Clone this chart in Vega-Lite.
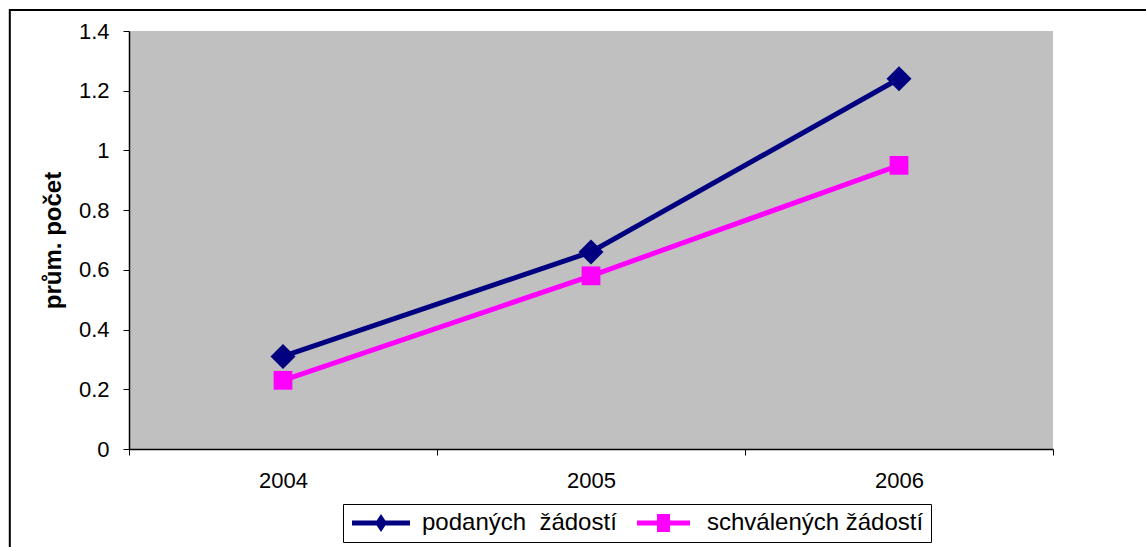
{
  "$schema": "https://vega.github.io/schema/vega-lite/v6.json",
  "autosize": "none",
  "width": 924,
  "height": 418,
  "padding": {"left": 129, "top": 31, "right": 93, "bottom": 98},
  "background": "white",
  "config": {
    "font": "Liberation Sans",
    "view": {"fill": "#C0C0C0", "stroke": null},
    "axis": {
      "domainColor": "black",
      "tickColor": "black",
      "labelColor": "black",
      "labelFont": "Liberation Sans",
      "grid": false
    }
  },
  "data": {
    "values": [
      {"rok": "2004", "rada": "podaných\u00a0 žádostí", "pocet": 0.31},
      {"rok": "2005", "rada": "podaných\u00a0 žádostí", "pocet": 0.66},
      {"rok": "2006", "rada": "podaných\u00a0 žádostí", "pocet": 1.24},
      {"rok": "2004", "rada": "schválených žádostí", "pocet": 0.23},
      {"rok": "2005", "rada": "schválených žádostí", "pocet": 0.58},
      {"rok": "2006", "rada": "schválených žádostí", "pocet": 0.95}
    ]
  },
  "layer": [
    {
      "data": {"values": [{"frame": "outer"}]},
      "mark": {"type": "rect", "fill": null, "stroke": "black", "strokeWidth": 2, "clip": false},
      "encoding": {
        "x": {"datum": -0.129, "type": "quantitative", "scale": {"domain": [0, 1]}, "axis": null},
        "x2": {"datum": 1.2},
        "y": {"datum": 1.47, "type": "quantitative"},
        "y2": {"datum": -0.5}
      }
    },
    {
      "layer": [
        {
          "mark": {"type": "line", "strokeWidth": 5},
          "encoding": {
            "x": {"field": "rok", "type": "ordinal"},
            "y": {"field": "pocet", "type": "quantitative"},
            "color": {"field": "rada", "type": "nominal"}
          }
        },
        {
          "mark": {"type": "point", "filled": true, "opacity": 1, "size": 625},
          "encoding": {
            "x": {"field": "rok", "type": "ordinal"},
            "y": {"field": "pocet", "type": "quantitative"},
            "color": {"field": "rada", "type": "nominal"},
            "shape": {
              "field": "rada",
              "type": "nominal",
              "scale": {"range": ["M0,-1L1,0L0,1L-1,0Z", "M-0.75,-0.75H0.75V0.75H-0.75Z"]},
              "legend": null
            }
          }
        }
      ],
      "encoding": {
        "x": {
          "field": "rok",
          "type": "ordinal",
          "scale": {"type": "band", "paddingInner": 0, "paddingOuter": 0},
          "axis": {
            "title": null,
            "labelAngle": 0,
            "labelFontSize": 22,
            "labelPadding": 15,
            "tickSize": 6,
            "tickBand": "extent",
            "domainWidth": 1.5
          }
        },
        "y": {
          "field": "pocet",
          "type": "quantitative",
          "scale": {"domain": [0, 1.4], "nice": false},
          "axis": {
            "title": "prům. počet",
            "titleFontSize": 24,
            "titleFontWeight": "bold",
            "titleColor": "black",
            "titlePadding": 13,
            "values": [0, 0.2, 0.4, 0.6, 0.8, 1, 1.2, 1.4],
            "format": ".1~f",
            "labelFontSize": 22,
            "labelPadding": 14,
            "tickSize": 6,
            "domainWidth": 1.5
          }
        },
        "color": {
          "field": "rada",
          "type": "nominal",
          "scale": {
            "domain": ["podaných\u00a0 žádostí", "schválených žádostí"],
            "range": ["#000080", "#FF00FF"]
          },
          "legend": {
            "title": null,
            "orient": "none",
            "legendX": 214,
            "legendY": 473,
            "direction": "horizontal",
            "strokeColor": "black",
            "fillColor": "white",
            "padding": 7,
            "symbolSize": 400,
            "labelFontSize": 24,
            "labelLimit": 0,
            "labelColor": "black",
            "labelOffset": 48,
            "columnPadding": 18,
            "encode": {
              "symbols": {
                "update": {
                  "shape": {"signal": "indexof(datum.value, 'podan') >= 0 ? 'M-1,-0.25H4.8V0.25H-1Z M1.9,-0.9L2.5,0L1.9,0.9L1.3,0Z' : 'M-1,-0.25H4.3V0.25H-1Z M1.0,-0.9H2.3V0.9H1.0Z'"},
                  "fill": {"signal": "scale('color', datum.value)"},
                  "stroke": {"value": "transparent"},
                  "strokeWidth": {"value": 0},
                  "opacity": {"value": 1}
                }
              }
            }
          }
        }
      }
    }
  ],
  "resolve": {"scale": {"x": "independent"}}
}
